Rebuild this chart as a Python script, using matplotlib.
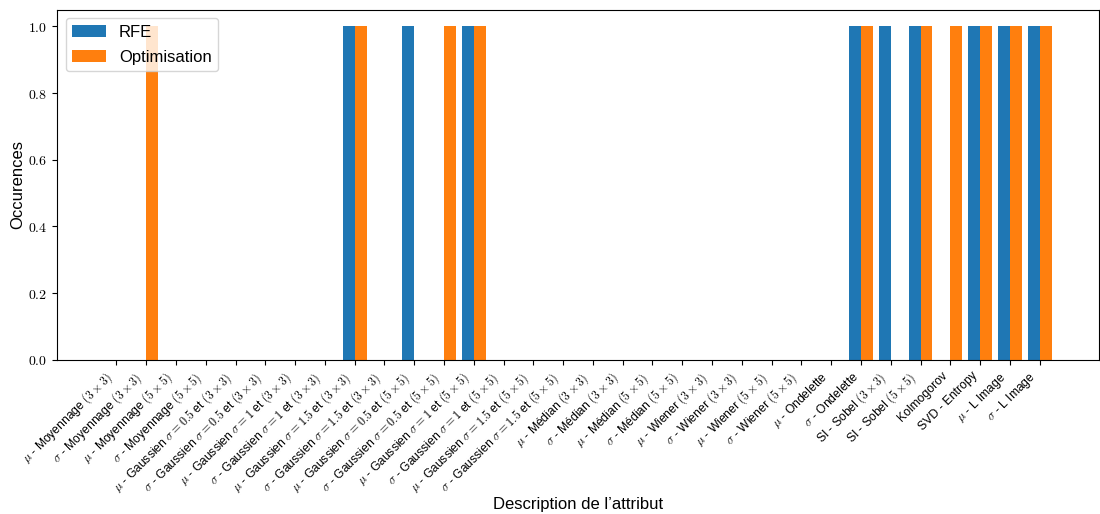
import numpy as np
import matplotlib
matplotlib.use("Agg")
import matplotlib.pyplot as plt
from matplotlib.ticker import FuncFormatter

plt.rcParams["font.family"] = ["Liberation Sans", "DejaVu Sans"]
plt.rcParams["mathtext.fontset"] = "cm"

# noms des attributs
attributs = [
    r"$\mu$ - Moyennage $(3 \times 3)$",
    r"$\sigma$ - Moyennage $(3 \times 3)$",
    r"$\mu$ - Moyennage $(5 \times 5)$",
    r"$\sigma$ - Moyennage $(5 \times 5)$",
    r"$\mu$ - Gaussien $\sigma = 0.5$ et $(3 \times 3)$",
    r"$\sigma$ - Gaussien $\sigma = 0.5$ et $(3 \times 3)$",
    r"$\mu$ - Gaussien $\sigma = 1$ et $(3 \times 3)$",
    r"$\sigma$ - Gaussien $\sigma = 1$ et $(3 \times 3)$",
    r"$\mu$ - Gaussien $\sigma = 1.5$ et $(3 \times 3)$",
    r"$\sigma$ - Gaussien $\sigma = 1.5$ et $(3 \times 3)$",
    r"$\mu$ - Gaussien $\sigma = 0.5$ et $(5 \times 5)$",
    r"$\sigma$ - Gaussien $\sigma = 0.5$ et $(5 \times 5)$",
    r"$\mu$ - Gaussien $\sigma = 1$ et $(5 \times 5)$",
    r"$\sigma$ - Gaussien $\sigma = 1$ et $(5 \times 5)$",
    r"$\mu$ - Gaussien $\sigma = 1.5$ et $(5 \times 5)$",
    r"$\sigma$ - Gaussien $\sigma = 1.5$ et $(5 \times 5)$",
    r"$\mu$ - Médian $(3 \times 3)$",
    r"$\sigma$ - Médian $(3 \times 3)$",
    r"$\mu$ - Médian $(5 \times 5)$",
    r"$\sigma$ - Médian $(5 \times 5)$",
    r"$\mu$ - Wiener $(3 \times 3)$",
    r"$\sigma$ - Wiener $(3 \times 3)$",
    r"$\mu$ - Wiener $(5 \times 5)$",
    r"$\sigma$ - Wiener $(5 \times 5)$",
    r"$\mu$ - Ondelette",
    r"$\sigma$ - Ondelette",
    r"SI - Sobel $(3 \times 3)$",
    r"SI - Sobel $(5 \times 5)$",
    "Kolmogorov",
    "SVD - Entropy",
    r"$\mu$ - L Image",
    r"$\sigma$ - L Image",
]

rfe = [0, 0, 0, 0, 0, 0, 0, 0, 1, 0, 1, 0, 1, 0, 0, 0,
       0, 0, 0, 0, 0, 0, 0, 0, 0, 1, 1, 1, 0, 1, 1, 1]
optimisation = [0, 1, 0, 0, 0, 0, 0, 0, 1, 0, 0, 1, 1, 0, 0, 0,
                0, 0, 0, 0, 0, 0, 0, 0, 0, 1, 0, 1, 1, 1, 1, 1]

x = np.arange(len(attributs))
largeur = 0.4

fig, ax = plt.subplots(figsize=(11, 5.14), dpi=100)
fig.subplots_adjust(left=0.052, right=0.999, top=0.981, bottom=0.300)

ax.bar(x - largeur / 2, rfe, largeur, color="#1f77b4", label="RFE")
ax.bar(x + largeur / 2, optimisation, largeur, color="#ff7f0e", label="Optimisation")

ax.set_xticks(x)
ax.set_xticklabels(attributs, rotation=45, ha="right", fontsize=8.7)
ax.yaxis.set_major_formatter(FuncFormatter(lambda v, p: f"${v:.1f}$"))
ax.tick_params(axis="y", labelsize=10)

ax.set_ylabel("Occurences", fontsize=12, labelpad=2)
ax.set_xlabel("Description de l’attribut", fontsize=12, labelpad=0.5)
ax.legend(loc="upper left", fontsize=12, labelspacing=0.6)

plt.savefig("out.png", dpi=100)
